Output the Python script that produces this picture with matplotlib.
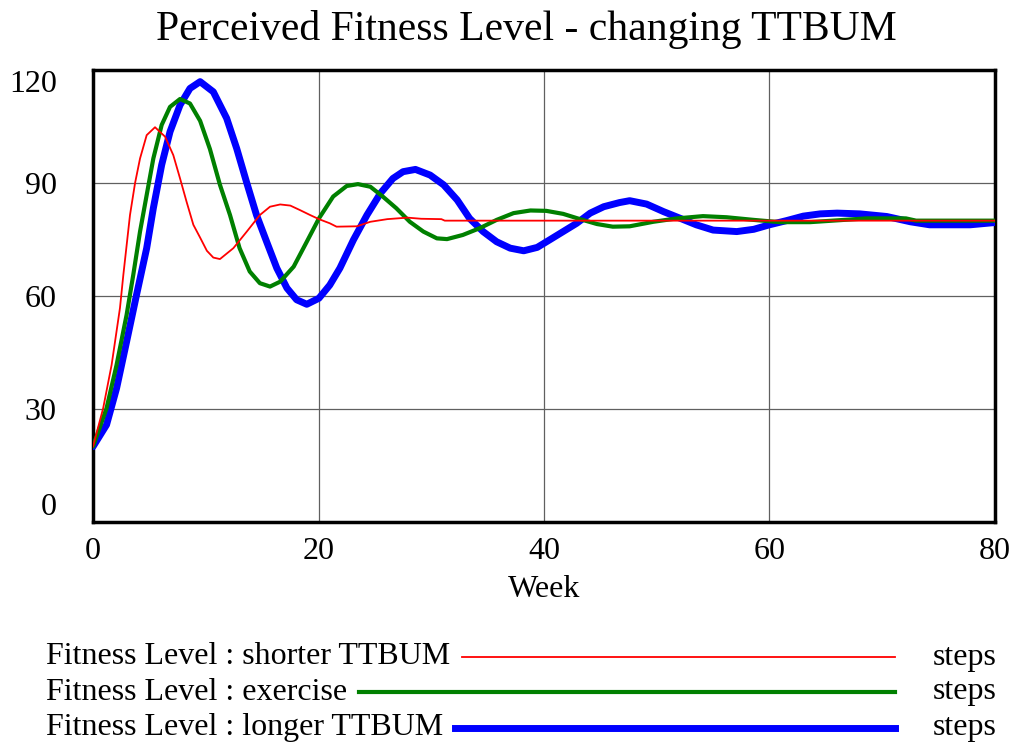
import numpy as np
import matplotlib
matplotlib.use("Agg")
import matplotlib.pyplot as plt
from matplotlib.lines import Line2D

plt.rcParams['font.family'] = ['Liberation Serif', 'DejaVu Serif']

# Fitness Level per run, sampled at uneven weeks
weeks_short = [0, 0.9, 1.65, 2.39, 2.69, 3.28, 3.73, 4.17, 4.76, 5.5,
               6.39, 7.12, 7.72, 8.3, 8.9, 9.5, 10.1, 10.67, 11.26, 12.45,
               13.64, 14.8, 15.7, 16.6, 17.5, 18.36, 19.25, 20.04, 21, 21.6,
               23.4, 24.6, 26.1, 27.9, 29.1, 30.9, 31.2, 40, 60, 80]
shorter = [20, 30.2, 41.7, 56.8, 65.6, 81.5, 90, 96.5, 102.7, 104.8,
           102.3, 97.4, 91.2, 85, 78.9, 75.5, 72, 70.2, 69.8, 72.7,
           77.1, 81.5, 83.7, 84.3, 84, 82.8, 81.5, 80.4, 79.3, 78.4,
           78.5, 79.7, 80.4, 80.8, 80.5, 80.4, 80, 80, 80, 80]

weeks_ex = [0, 1.2, 2.09, 2.98, 3.57, 4.17, 4.76, 5.35, 6.09, 6.83,
            7.72, 8.6, 9.5, 10.37, 11.26, 12.15, 13, 13.9, 14.8, 15.7,
            16.6, 17.8, 18.96, 20.04, 21.3, 22.5, 23.5, 24.6, 25.7, 26.9,
            28.1, 29.3, 30.5, 31.4, 32.8, 34.3, 35.8, 37.3, 38.8, 40.2,
            41.7, 43.2, 44.7, 46.1, 47.6, 49.7, 51.8, 54.1, 56.2, 58.6,
            60.9, 63.6, 68.6, 72.1, 73, 80]
exercise = [20, 30.2, 41.7, 55, 65.6, 77.1, 86.8, 96.5, 105.4, 110.2,
            112.3, 111.1, 106.5, 99, 89.5, 81.5, 72.7, 66.5, 63.4, 62.5,
            63.8, 67.8, 74.4, 80.6, 86.4, 89.2, 89.7, 89, 86.4, 83.3,
            79.7, 77.1, 75.3, 75.1, 76.2, 78, 80.2, 82, 82.7, 82.6,
            81.8, 80.4, 79.1, 78.4, 78.5, 79.7, 80.6, 81.2, 80.9, 80.2,
            79.6, 79.6, 80.6, 80.6, 80, 80]

weeks_long = [0, 1.2, 2.09, 2.98, 3.86, 4.76, 5.35, 6.09, 6.83, 7.72,
              8.6, 9.5, 10.67, 11.85, 12.74, 13.64, 14.5, 15.4, 16.3, 17.2,
              18.06, 18.96, 20.04, 21, 21.9, 23.1, 24.3, 25.5, 26.6, 27.5,
              28.6, 29.9, 31.1, 32.3, 33.4, 34.6, 35.8, 37, 38.2, 39.4,
              40.5, 41.7, 42.9, 44.1, 45.3, 46.7, 47.6, 49.1, 50.6, 52.1,
              53.5, 55, 57.1, 58.6, 60, 61.5, 63, 64.5, 66, 68,
              70.4, 72.5, 74.2, 77.8, 80]
longer = [20, 25.8, 35.5, 47.9, 60.3, 72.7, 83.3, 94.8, 103.6, 110.7,
          115.1, 116.9, 114.2, 107.2, 99.2, 90, 81.5, 74.4, 67.4, 62.1,
          59, 57.8, 59.4, 62.9, 67.4, 74.9, 81.5, 87.3, 91.2, 93,
          93.6, 92.1, 89.5, 85.5, 80.6, 77.1, 74.4, 72.7, 72, 72.9,
          74.9, 77.1, 79.3, 82, 83.7, 84.8, 85.3, 84.4, 82.4, 80.6,
          78.9, 77.5, 77.1, 77.7, 78.9, 80, 81.2, 81.8, 82, 81.8,
          81.1, 79.7, 78.9, 78.9, 79.5]

series = [
    ("Fitness Level : shorter TTBUM", weeks_short, shorter, "#ff0000", 1.3),
    ("Fitness Level : exercise", weeks_ex, exercise, "#008000", 3.0),
    ("Fitness Level : longer TTBUM", weeks_long, longer, "#0000ff", 5.0),
]
zorders = [5, 4, 3]  # thin red line stays on top

fig = plt.figure(figsize=(10.21, 7.5), dpi=100)
ax = fig.add_axes([0.0911, 0.304, 0.8834, 0.6027])

for (name, wk, vals, col, lw), z in zip(series, zorders):
    ax.plot(wk, vals, color=col, lw=lw, zorder=z, solid_capstyle='round',
            solid_joinstyle='round')

ax.set_xlim(0, 80)
ax.set_ylim(0, 120)
ax.set_xticks([0, 20, 40, 60, 80])
ax.set_yticks([0, 30, 60, 90, 120])
ax.grid(True, color='#606060', lw=0.9)
ax.tick_params(length=0, labelsize=23)
ax.tick_params(axis='x', pad=11)
ax.tick_params(axis='y', pad=26)
ylabs = ax.get_yticklabels()
ylabs[0].set_verticalalignment('bottom')
ylabs[-1].set_verticalalignment('top')
for sp in ax.spines.values():
    sp.set_linewidth(2.5)
ax.set_xlabel("Week", fontsize=23, labelpad=6)

fig.text(0.516, 0.961, "Perceived Fitness Level - changing TTBUM",
         ha='center', va='center', fontsize=30)

# legend rows drawn in figure coordinates
fig.canvas.draw()
renderer = fig.canvas.get_renderer()
W, H = fig.bbox.width, fig.bbox.height
row_y = [657, 692, 728]
for (name, wk, vals, col, lw), py in zip(series, row_y):
    yf = 1 - py / H
    t = fig.text(46 / W, yf, name, ha='left', va='center', fontsize=23)
    bb = t.get_window_extent(renderer)
    x0 = (bb.x1 + 12) / W
    fig.add_artist(Line2D([x0, 895 / W], [yf, yf], color=col, lw=lw,
                          transform=fig.transFigure))
    fig.text(997 / W, yf, "steps", ha='right', va='center', fontsize=23)

fig.savefig("out.png", dpi=100)
